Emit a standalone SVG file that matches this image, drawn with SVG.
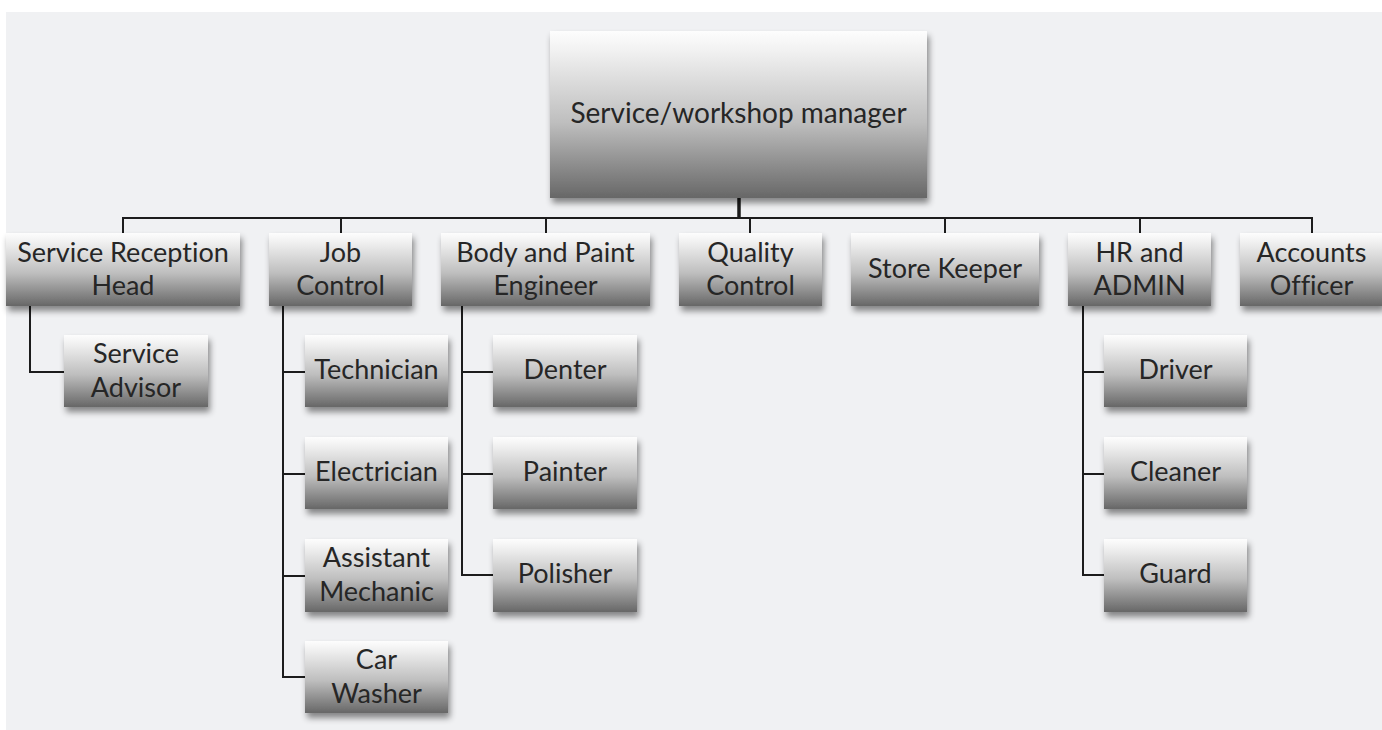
<svg xmlns="http://www.w3.org/2000/svg" width="1382" height="730" viewBox="0 0 1382 730">
  <defs>
    <linearGradient id="boxFill" x1="0" y1="0" x2="0" y2="1">
      <stop offset="0" stop-color="#fdfdfd"/>
      <stop offset="0.12" stop-color="#f1f1f1"/>
      <stop offset="0.55" stop-color="#bebebe"/>
      <stop offset="1" stop-color="#676767"/>
    </linearGradient>
    <filter id="shadow" x="-10%" y="-10%" width="125%" height="140%">
      <feDropShadow dx="2" dy="5" stdDeviation="3" flood-color="#000" flood-opacity="0.45"/>
    </filter>
    <style>
      .box { fill: url(#boxFill); filter: url(#shadow); }
      .lbl { font-family: "Lato", "Open Sans", "Liberation Sans", sans-serif; font-size: 27px; fill: #262626; text-anchor: middle; font-variant-ligatures: none; font-feature-settings: "liga" 0, "clig" 0, "dlig" 0; }
      .big { font-size: 28px; }
      .wire { stroke: #1c1c1c; stroke-width: 2; fill: none; }
      .trunk { stroke: #1c1c1c; stroke-width: 3.5; fill: none; }
    </style>
  </defs>

  <!-- page background -->
  <rect x="0" y="0" width="1382" height="730" fill="#ffffff"/>
  <rect x="6" y="12" width="1376" height="718" fill="#f0f1f3"/>

  <!-- connectors -->
  <g id="connectors">
    <line class="trunk" x1="739" y1="198" x2="739" y2="218"/>
    <line class="wire" x1="122" y1="218" x2="1313" y2="218"/>
    <line class="wire" x1="123" y1="218" x2="123" y2="233"/>
    <line class="wire" x1="341" y1="218" x2="341" y2="233"/>
    <line class="wire" x1="546" y1="218" x2="546" y2="233"/>
    <line class="wire" x1="750" y1="218" x2="750" y2="233"/>
    <line class="wire" x1="945" y1="218" x2="945" y2="233"/>
    <line class="wire" x1="1140" y1="218" x2="1140" y2="233"/>
    <line class="wire" x1="1312" y1="218" x2="1312" y2="233"/>

    <polyline class="wire" points="30,306 30,372 64,372"/>

    <line class="wire" x1="283" y1="306" x2="283" y2="678"/>
    <line class="wire" x1="283" y1="372" x2="305" y2="372"/>
    <line class="wire" x1="283" y1="474" x2="305" y2="474"/>
    <line class="wire" x1="283" y1="576" x2="305" y2="576"/>
    <line class="wire" x1="283" y1="677" x2="305" y2="677"/>

    <line class="wire" x1="462" y1="306" x2="462" y2="576"/>
    <line class="wire" x1="462" y1="372" x2="493" y2="372"/>
    <line class="wire" x1="462" y1="474" x2="493" y2="474"/>
    <line class="wire" x1="462" y1="575" x2="493" y2="575"/>

    <line class="wire" x1="1083" y1="306" x2="1083" y2="576"/>
    <line class="wire" x1="1083" y1="372" x2="1104" y2="372"/>
    <line class="wire" x1="1083" y1="474" x2="1104" y2="474"/>
    <line class="wire" x1="1083" y1="575" x2="1104" y2="575"/>
  </g>

  <!-- top -->
  <g id="manager">
    <rect class="box" x="550" y="31" width="377" height="167"/>
    <text class="lbl big" x="738.5" y="123">Service/workshop manager</text>
  </g>

  <!-- first level -->
  <g id="service-reception-head">
    <rect class="box" x="6" y="233" width="234" height="73"/>
    <text class="lbl" x="123" y="262">Service Reception</text>
    <text class="lbl" x="123" y="295">Head</text>
  </g>
  <g id="job-control">
    <rect class="box" x="269" y="233" width="143" height="73"/>
    <text class="lbl" x="340.5" y="262">Job</text>
    <text class="lbl" x="340.5" y="295">Control</text>
  </g>
  <g id="body-and-paint-engineer">
    <rect class="box" x="441" y="233" width="209" height="73"/>
    <text class="lbl" x="545.5" y="262">Body and Paint</text>
    <text class="lbl" x="545.5" y="295">Engineer</text>
  </g>
  <g id="quality-control">
    <rect class="box" x="679" y="233" width="143" height="73"/>
    <text class="lbl" x="750.5" y="262">Quality</text>
    <text class="lbl" x="750.5" y="295">Control</text>
  </g>
  <g id="store-keeper">
    <rect class="box" x="851" y="233" width="188" height="73"/>
    <text class="lbl" x="945" y="278">Store Keeper</text>
  </g>
  <g id="hr-and-admin">
    <rect class="box" x="1068" y="233" width="143" height="73"/>
    <text class="lbl" x="1139.5" y="262">HR and</text>
    <text class="lbl" x="1139.5" y="295">ADMIN</text>
  </g>
  <g id="accounts-officer">
    <rect class="box" x="1240" y="233" width="143" height="73"/>
    <text class="lbl" x="1311.5" y="262">Accounts</text>
    <text class="lbl" x="1311.5" y="295">Officer</text>
  </g>

  <!-- second level -->
  <g id="service-advisor">
    <rect class="box" x="64" y="335" width="144" height="72"/>
    <text class="lbl" x="136" y="363">Service</text>
    <text class="lbl" x="136" y="397">Advisor</text>
  </g>

  <g id="technician">
    <rect class="box" x="305" y="335" width="143" height="72"/>
    <text class="lbl" x="376.5" y="379">Technician</text>
  </g>
  <g id="electrician">
    <rect class="box" x="305" y="437" width="143" height="72"/>
    <text class="lbl" x="376.5" y="481">Electrician</text>
  </g>
  <g id="assistant-mechanic">
    <rect class="box" x="305" y="539" width="143" height="73"/>
    <text class="lbl" x="376.5" y="567">Assistant</text>
    <text class="lbl" x="376.5" y="601">Mechanic</text>
  </g>
  <g id="car-washer">
    <rect class="box" x="305" y="641" width="143" height="72"/>
    <text class="lbl" x="376.5" y="669">Car</text>
    <text class="lbl" x="376.5" y="703">Washer</text>
  </g>

  <g id="denter">
    <rect class="box" x="493" y="335" width="144" height="72"/>
    <text class="lbl" x="565" y="379">Denter</text>
  </g>
  <g id="painter">
    <rect class="box" x="493" y="437" width="144" height="72"/>
    <text class="lbl" x="565" y="481">Painter</text>
  </g>
  <g id="polisher">
    <rect class="box" x="493" y="539" width="144" height="73"/>
    <text class="lbl" x="565" y="583">Polisher</text>
  </g>

  <g id="driver">
    <rect class="box" x="1104" y="335" width="143" height="72"/>
    <text class="lbl" x="1175.5" y="379">Driver</text>
  </g>
  <g id="cleaner">
    <rect class="box" x="1104" y="437" width="143" height="72"/>
    <text class="lbl" x="1175.5" y="481">Cleaner</text>
  </g>
  <g id="guard">
    <rect class="box" x="1104" y="539" width="143" height="73"/>
    <text class="lbl" x="1175.5" y="583">Guard</text>
  </g>
</svg>
